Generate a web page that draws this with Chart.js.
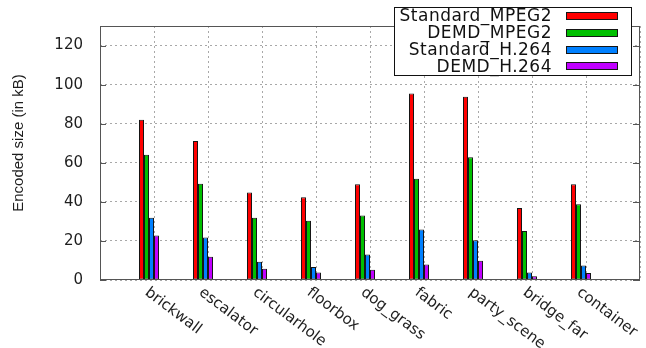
<!DOCTYPE html>
<html>
<head>
<meta charset="utf-8">
<script src="https://cdn.jsdelivr.net/npm/chart.js@4"></script>
<style>
  html, body { margin: 0; padding: 0; background: #fff; }
  #c { display: block; }
</style>
</head>
<body>
<canvas id="c" width="646" height="348"></canvas>
<script>
// Encoded sizes (kB) per test sequence
const categories = ['brickwall', 'escalator', 'circularhole', 'floorbox', 'dog_grass',
                    'fabric', 'party_scene', 'bridge_far', 'container'];
const standardMpeg2 = [82.0, 71.2, 44.8, 42.4, 49.0, 95.4, 93.8, 36.8, 49.0];
const demdMpeg2     = [64.1, 49.3, 31.9, 30.3, 33.0, 51.8, 62.8, 25.1, 38.8];
const standardH264  = [31.9, 21.7,  9.4,  6.6, 13.0, 25.9, 20.4,  3.9,  7.4];
const demdH264      = [22.8, 11.9,  5.8,  3.9,  5.2,  7.9,  9.9,  1.9,  3.6];
const yTicks = [0, 20, 40, 60, 80, 100, 120];

const seriesNames  = ['Standard_MPEG2', 'DEMD_MPEG2', 'Standard_H.264', 'DEMD_H.264'];
const seriesValues = [standardMpeg2, demdMpeg2, standardH264, demdH264];
const seriesColors = ['#ff0000', '#00c000', '#0080ff', '#c000ff'];

// each tic sits a little right of its cluster centre, gnuplot-histogram style
const ticShift = 5 / 54;

const datasets = seriesNames.map((name, s) => ({
  label: name,
  data: seriesValues[s].map((v, i) => ({ x: i, y: v })),
  backgroundColor: seriesColors[s],
  borderColor: '#151515',
  borderWidth: 1,
  borderSkipped: false,
  categoryPercentage: 0.3704,
  barPercentage: 1.0
}));

const decorations = {
  id: 'decorations',
  afterDraw(chart) {
    const ctx = chart.ctx;
    const a = chart.chartArea;
    const y = chart.scales.y;
    const x = chart.scales.x;
    ctx.save();

    // plot frame
    ctx.strokeStyle = '#555';
    ctx.lineWidth = 1;
    ctx.strokeRect(a.left + 0.5, a.top + 0.5, a.right - a.left - 1, a.bottom - a.top - 1);

    // inward tics on left and right borders
    ctx.beginPath();
    yTicks.forEach(v => {
      const py = Math.round(y.getPixelForValue(v)) + 0.5;
      ctx.moveTo(a.left, py); ctx.lineTo(a.left + 6, py);
      ctx.moveTo(a.right - 7, py); ctx.lineTo(a.right, py);
    });
    ctx.stroke();

    // y-axis title
    ctx.fillStyle = '#1e1e1e';
    ctx.font = '15px "Liberation Sans"';
    ctx.textAlign = 'center';
    ctx.textBaseline = 'middle';
    ctx.save();
    ctx.translate(19, 143);
    ctx.rotate(-Math.PI / 2);
    ctx.fillText('Encoded size (in kB)', 0, 0);
    ctx.restore();

    // category labels, rotated clockwise from their tic
    ctx.font = '15px "DejaVu Sans"';
    ctx.textAlign = 'left';
    ctx.textBaseline = 'top';
    const ang = 37 * Math.PI / 180;
    categories.forEach((c, i) => {
      const px = x.getPixelForValue(i + ticShift) - 3;
      ctx.save();
      ctx.translate(px, a.bottom + 5);
      ctx.rotate(ang);
      ctx.fillText(c, 0, 0);
      ctx.restore();
    });

    // key box
    const bx = 394.5, by = 7.5, bw = 237, bh = 68;
    ctx.fillStyle = '#fff';
    ctx.fillRect(bx, by, bw, bh);
    ctx.strokeStyle = '#111';
    ctx.strokeRect(bx, by, bw, bh);
    ctx.font = '17px "DejaVu Sans"';
    try { ctx.letterSpacing = '0.5px'; } catch (e) {}
    ctx.textAlign = 'right';
    ctx.textBaseline = 'middle';
    chart.data.datasets.forEach((ds, k) => {
      const cy = 16 + k * 16.8;
      ctx.fillStyle = '#111';
      ctx.fillText(ds.label, 552, cy + 1);
      ctx.fillStyle = ds.backgroundColor;
      ctx.fillRect(566.5, Math.round(cy - 4) + 0.5, 51, 7);
      ctx.strokeStyle = '#151515';
      ctx.strokeRect(566.5, Math.round(cy - 4) + 0.5, 51, 7);
    });
    ctx.restore();
  }
};

new Chart(document.getElementById('c'), {
  type: 'bar',
  data: { datasets },
  options: {
    responsive: false,
    animation: false,
    devicePixelRatio: 1,
    layout: { padding: { left: 0, top: 5, right: 6, bottom: 0 } },
    plugins: { legend: { display: false }, tooltip: { enabled: false } },
    scales: {
      x: {
        type: 'linear',
        offset: false,
        min: -1 + ticShift,
        max: 9 + ticShift,
        afterBuildTicks(scale) {
          const t = [];
          for (let k = -1; k <= categories.length; k++) t.push({ value: k + ticShift });
          scale.ticks = t;
        },
        ticks: { display: false },
        grid: { offset: false, color: '#a8a8a8', lineWidth: 1, drawTicks: false },
        border: { display: false, dash: [2, 3] },
        afterFit(scale) { scale.height = 68; }
      },
      y: {
        type: 'linear',
        min: 0,
        max: 130,
        afterBuildTicks(scale) { scale.ticks = yTicks.map(v => ({ value: v })); },
        ticks: {
          color: '#1e1e1e',
          font: { family: 'DejaVu Sans', size: 15 },
          padding: 17
        },
        grid: { color: '#a8a8a8', lineWidth: 1, drawTicks: false },
        border: { display: false, dash: [2, 3] },
        afterFit(scale) { scale.width = 100; }
      }
    }
  },
  plugins: [decorations]
});
</script>
</body>
</html>
